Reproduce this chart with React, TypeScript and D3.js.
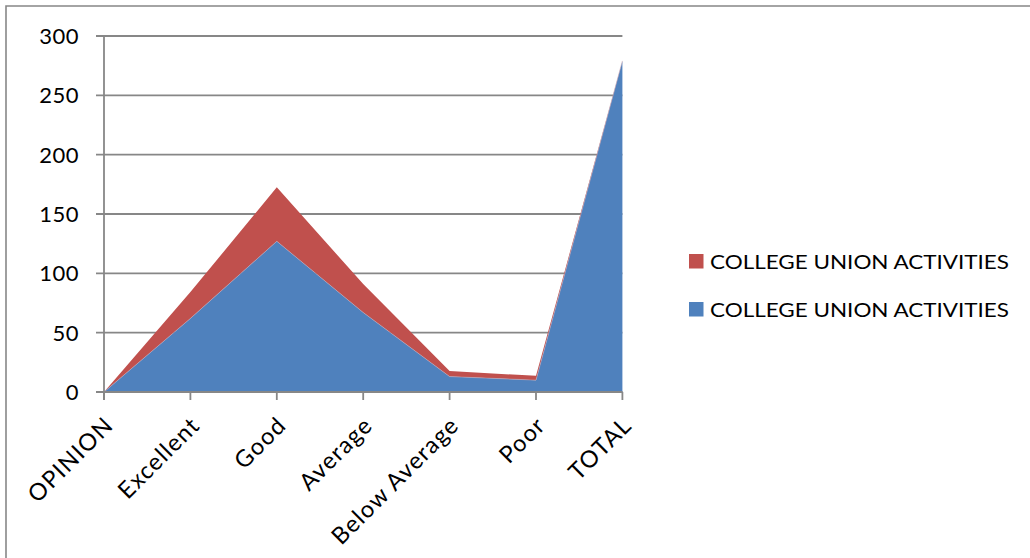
import React from "react";
import * as d3 from "d3";

const categories = ["OPINION", "Excellent", "Good", "Average", "Below Average", "Poor", "TOTAL"];
const blueValues = [0, 62, 127, 67, 13, 10, 279];
const redValues = [0, 22.2, 45.5, 24.0, 4.7, 3.6, 0];
const seriesNames = ["COLLEGE UNION ACTIVITIES", "COLLEGE UNION ACTIVITIES"];
const yTicks = [0, 50, 100, 150, 200, 250, 300];

const W = 1030;
const H = 558;
const FONT = "Lato, 'Open Sans', sans-serif";
const BLUE = "#4F81BD";
const RED = "#C0504D";
const GRID = "#878787";

export default function App() {
  const x = d3.scalePoint<string>().domain(categories).range([104, 622.4]);
  const y = d3.scaleLinear().domain([0, 300]).range([392, 36]);

  const rows = categories.map((c, i) => ({ cat: c, blue: blueValues[i], red: redValues[i] }));
  const stack = d3.stack<any>().keys(["blue", "red"]);
  const layers = stack(rows);

  const area = d3
    .area<any>()
    .x((d) => x(d.data.cat) as number)
    .y0((d) => y(d[0]))
    .y1((d) => y(d[1]));

  const topLine = d3
    .line<any>()
    .x((d) => x(d.data.cat) as number)
    .y((d) => y(d[1]));

  const xLeft = 104;
  const xRight = 622.4;

  return (
    <svg
      width={W}
      height={H}
      style={{ position: "absolute", left: 0, top: 0, background: "#fff" }}
      fontFamily={FONT}
    >
      {/* chart border */}
      <path d={`M6,${H + 5} L6,6 L${W + 5},6`} fill="none" stroke={GRID} strokeWidth={1.6} />

      {/* gridlines */}
      {yTicks.map((t) => (
        <line key={"g" + t} x1={96} x2={xRight} y1={y(t)} y2={y(t)} stroke={GRID} strokeWidth={1.8} />
      ))}

      {/* areas: red (stacked) first then blue */}
      <path d={area(layers[1]) || ""} fill={RED} />
      <path d={area(layers[0]) || ""} fill={BLUE} />
      <path d={topLine(layers[0]) || ""} fill="none" stroke="#c9a3b0" strokeWidth={0.8} opacity={0.7} />

      {/* y axis */}
      <line x1={xLeft} x2={xLeft} y1={y(300)} y2={y(0) + 8} stroke={GRID} strokeWidth={1.8} />
      {/* x axis */}
      <line x1={96} x2={xRight} y1={y(0)} y2={y(0)} stroke={GRID} strokeWidth={1.8} />
      {categories.map((c) => (
        <line key={"t" + c} x1={x(c)} x2={x(c)} y1={y(0)} y2={y(0) + 8} stroke={GRID} strokeWidth={1.8} />
      ))}

      {/* y labels */}
      {yTicks.map((t) => (
        <text key={"yl" + t} x={79} y={y(t) + 8} textAnchor="end" fontSize={22} fill="#000" letterSpacing={0.5}>
          {t}
        </text>
      ))}

      {/* x labels */}
      {categories.map((c) => {
        const px = (x(c) as number) + 5;
        const py = 421;
        return (
          <text
            key={"xl" + c}
            x={px}
            y={py}
            textAnchor="end"
            fontSize={23.5}
            letterSpacing={1.2}
            fill="#000"
            transform={`rotate(-45 ${px} ${py})`}
            dy="0.35em"
          >
            {c}
          </text>
        );
      })}

      {/* legend */}
      {[
        { name: seriesNames[0], color: RED, yb: 269 },
        { name: seriesNames[1], color: BLUE, yb: 317 },
      ].map((l, i) => (
        <g key={"lg" + i}>
          <rect x={689} y={l.yb - 15} width={14.5} height={14.5} fill={l.color} />
          <text x={710} y={l.yb} fontSize={19.5} fill="#000" textLength={299} lengthAdjust="spacingAndGlyphs">
            {l.name}
          </text>
        </g>
      ))}
    </svg>
  );
}
